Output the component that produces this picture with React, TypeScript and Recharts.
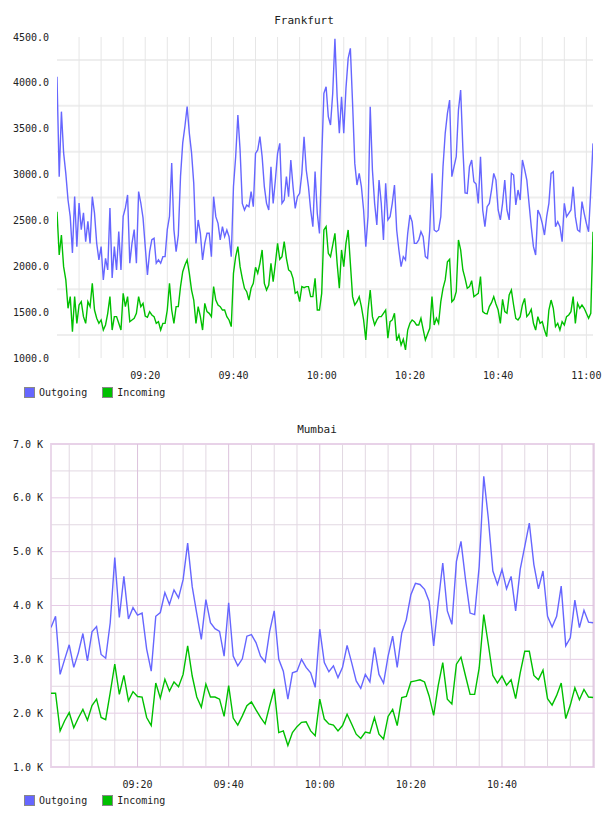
import React from 'react';
import { LineChart, Line, XAxis, YAxis, ReferenceLine, ReferenceArea } from 'recharts';

// Frankfurt: 30 s samples starting 09:00 (values in bytes/s)
const frankStepMin = 0.5;
const frankOutgoing = [
  4067, 2977, 3686, 3236, 3010, 2723, 2541, 2146, 2760, 2214, 2690, 2400, 2582, 2269, 2490, 2250,
  2759, 2580, 2250, 2070, 2215, 1851, 2087, 1960, 2636, 1873, 2215, 1960, 2378, 1960, 2545, 2636,
  2778, 2033, 2251, 2400, 2033, 2814, 2690, 2527, 2215, 1906, 2160, 2290, 2305, 2033, 2070, 2033,
  2105, 2105, 2400, 2545, 3127, 2400, 2160, 2340, 2980, 3345, 3527, 3741, 3450, 3236, 2904, 2250,
  2505, 2360, 2069, 2250, 2360, 2360, 2105, 2759, 2541, 2468, 2287, 2432, 2323, 2396, 2323, 2105,
  2868, 3195, 3649, 3268, 2686, 2614, 2668, 2650, 2814, 2650, 3231, 3268, 3413, 3195, 2868, 2686,
  2614, 3086, 2686, 2941, 3231, 3340, 2686, 2723, 2977, 2759, 3159, 2868, 2632, 2759, 2795, 3013,
  3413, 3050, 2868, 2614, 2432, 3032, 2577, 2359, 3177, 3886, 3958, 3631, 3540, 3886, 4480, 3849,
  3450, 3849, 3450, 3940, 4267, 4376, 3777, 3122, 2886, 3013, 2868, 2614, 2214, 2541, 3740, 3050,
  2686, 2450, 2941, 2686, 2287, 2904, 2505, 2541, 2686, 2886, 2396, 2178, 1996, 2105, 2069, 2359,
  2559, 2486, 2250, 2250, 2287, 2377, 2323, 2105, 2087, 2396, 3013, 2396, 2377, 2396, 2541, 3086,
  3450, 3667, 3813, 2977, 3086, 3195, 3704, 3922, 3286, 2800, 2795, 3086, 3159, 2922, 2897, 2686,
  3195, 2614, 2432, 2650, 2686, 2832, 3013, 2940, 2614, 2505, 2686, 2941, 2614, 2505, 3013, 2995,
  2668, 2832, 2723, 3159, 3057, 2941, 2686, 2432, 2214, 2123, 2614, 2559, 2468, 2341, 2541, 2686,
  3013, 3032, 2432, 2486, 2432, 2268, 2686, 2541, 2577, 2614, 2868, 2541, 2396, 2377, 2705, 2577,
  2468, 2377, 2832, 3340,
];
const frankIncoming = [
  2595, 2123, 2341, 1996, 1851, 1542, 1669, 1287, 1669, 1378, 1578, 1614, 1451, 1378, 1614, 1560,
  1814, 1523, 1433, 1378, 1415, 1305, 1360, 1487, 1669, 1305, 1451, 1451, 1378, 1305, 1705, 1560,
  1669, 1396, 1415, 1433, 1487, 1669, 1560, 1596, 1458, 1444, 1505, 1469, 1451, 1378, 1396, 1305,
  1378, 1378, 1523, 1814, 1523, 1378, 1560, 1560, 1778, 1941, 2014, 2069, 1923, 1741, 1632, 1378,
  1560, 1451, 1305, 1596, 1505, 1487, 1451, 1778, 1632, 1578, 1560, 1523, 1523, 1451, 1415, 1342,
  1923, 2105, 2214, 1996, 1869, 1760, 1723, 1632, 1760, 1814, 1989, 1923, 2032, 2178, 1814, 1741,
  1796, 2032, 1832, 2032, 2250, 2076, 2105, 2268, 2087, 1960, 1941, 1869, 1705, 1723, 1614, 1778,
  1767, 1778, 1778, 1669, 1669, 1869, 1523, 1523, 1705, 2396, 2432, 2141, 2105, 2232, 2359, 2032,
  1760, 2178, 1996, 2250, 2396, 2032, 1669, 1578, 1614, 1669, 1560, 1415, 1196, 1523, 1741, 1451,
  1360, 1415, 1451, 1451, 1487, 1523, 1215, 1396, 1415, 1487, 1189, 1251, 1142, 1204, 1088, 1305,
  1378, 1415, 1396, 1360, 1360, 1433, 1313, 1196, 1262, 1324, 1669, 1360, 1433, 1378, 1614, 1760,
  1851, 2050, 2076, 1614, 1640, 1723, 2287, 2178, 1960, 1869, 1760, 1778, 1843, 1669, 1687, 1705,
  1887, 1505, 1487, 1480, 1560, 1603, 1669, 1589, 1523, 1378, 1640, 1505, 1487, 1687, 1741, 1578,
  1433, 1415, 1451, 1578, 1650, 1451, 1480, 1530, 1378, 1305, 1451, 1378, 1396, 1305, 1233, 1523,
  1632, 1542, 1342, 1378, 1305, 1396, 1360, 1451, 1469, 1505, 1669, 1378, 1596, 1542, 1578, 1542,
  1487, 1433, 1487, 2377,
];
const frankYTicks = [1000, 1500, 2000, 2500, 3000, 3500, 4000, 4500];
const frankHGrid = [1250, 1750, 2250, 2750, 3250, 3750, 4250];
const frankTimeTicks = [20, 40, 60, 80, 100, 120];

// Mumbai: 1 min samples, minute 1..120 after 09:00 (values in K)
const mumbaiStartMin = 1;
const mumbaiOutgoing = [
  3.59, 3.80, 2.72, 3.00, 3.27, 2.85, 3.12, 3.48, 2.97, 3.51, 3.61, 3.09, 3.02, 3.68, 4.89, 3.78,
  4.54, 3.75, 3.96, 3.82, 3.86, 3.19, 2.78, 3.80, 3.87, 4.24, 4.02, 4.29, 4.14, 4.48, 5.16, 4.35,
  3.85, 3.37, 4.11, 3.68, 3.57, 3.52, 3.06, 4.05, 3.06, 2.88, 3.01, 3.43, 3.46, 3.31, 3.06, 2.95,
  3.52, 3.90, 3.00, 2.78, 2.26, 2.75, 2.78, 3.00, 2.85, 2.75, 2.48, 3.56, 2.94, 2.77, 2.88, 2.66,
  2.85, 3.26, 2.94, 2.60, 2.46, 2.72, 2.58, 3.22, 2.72, 2.56, 3.06, 3.43, 2.85, 3.49, 3.74, 4.20,
  4.41, 4.39, 4.30, 4.08, 3.25, 4.05, 4.79, 3.90, 3.65, 4.82, 5.19, 4.48, 3.86, 3.83, 4.73, 6.40,
  5.62, 4.64, 4.39, 4.67, 4.31, 4.54, 3.90, 4.67, 5.10, 5.53, 4.76, 4.31, 4.64, 3.80, 3.60, 3.80,
  4.36, 3.25, 3.40, 4.10, 3.59, 3.91, 3.69, 3.68,
];
const mumbaiIncoming = [
  2.37, 2.37, 1.67, 1.86, 2.01, 1.73, 1.91, 2.07, 1.87, 2.14, 2.26, 1.92, 1.88, 2.38, 2.91, 2.35,
  2.70, 2.23, 2.40, 2.31, 2.30, 1.92, 1.77, 2.56, 2.28, 2.63, 2.41, 2.58, 2.49, 2.72, 3.25, 2.69,
  2.30, 2.11, 2.54, 2.30, 2.30, 2.26, 1.94, 2.51, 1.91, 1.78, 1.95, 2.14, 2.21, 2.06, 1.92, 1.80,
  2.14, 2.45, 1.64, 1.67, 1.40, 1.64, 1.75, 1.83, 1.84, 1.67, 1.58, 2.26, 1.89, 1.80, 1.78, 1.67,
  1.77, 1.98, 1.80, 1.61, 1.53, 1.65, 1.63, 1.92, 1.61, 1.52, 1.94, 2.07, 1.77, 2.29, 2.31, 2.58,
  2.60, 2.62, 2.58, 2.32, 1.96, 2.51, 2.94, 2.26, 2.17, 2.91, 3.04, 2.69, 2.35, 2.35, 2.84, 3.83,
  3.28, 2.70, 2.56, 2.69, 2.52, 2.62, 2.27, 2.75, 3.15, 3.15, 2.70, 2.62, 2.80, 2.27, 2.15, 2.33,
  2.56, 1.90, 2.15, 2.47, 2.25, 2.44, 2.30, 2.29,
];
const mumbaiYTicks = [1, 2, 3, 4, 5, 6, 7];
const mumbaiHMinor = [1.5, 2.5, 3.5, 4.5, 5.5, 6.5];
const mumbaiTimeTicks = [20, 40, 60, 80, 100];

const fiveMinLines = [5, 10, 15, 20, 25, 30, 35, 40, 45, 50, 55, 60, 65, 70, 75, 80, 85, 90, 95, 100, 105, 110, 115, 120];

const OUT_COLOR = '#6666ff';
const IN_COLOR = '#00c000';
const FONT = '"DejaVu Sans Mono", monospace';

const frankData = frankOutgoing.map((v, i) => ({ t: i * frankStepMin, out: v, inc: frankIncoming[i] }));
const mumbaiData = mumbaiOutgoing.map((v, i) => ({ t: mumbaiStartMin + i, out: v, inc: mumbaiIncoming[i] }));

const fmtTime = (m: number) => {
  const total = 9 * 60 + m;
  const h = Math.floor(total / 60);
  const mm = total % 60;
  return `${String(h).padStart(2, '0')}:${String(mm).padStart(2, '0')}`;
};

const XTick = (props: any) => {
  const { x, y, payload } = props;
  return (
    <text x={x} y={y + 15} textAnchor="middle" dominantBaseline="central" fontFamily={FONT} fontSize={10} fill="#222">
      {fmtTime(payload.value)}
    </text>
  );
};

const makeYTick = (fmt: (v: number) => string) => (props: any) => {
  const { x, y, payload } = props;
  return (
    <text x={x} y={y} textAnchor="end" dominantBaseline="central" fontFamily={FONT} fontSize={10} fill="#222">
      {fmt(payload.value)}
    </text>
  );
};

const Title = ({ text, top, left }: { text: string; top: number; left: number }) => (
  <div style={{ position: 'absolute', top, left, transform: 'translate(-50%, -50%)', fontFamily: FONT, fontSize: 11, color: '#222', whiteSpace: 'nowrap' }}>
    {text}
  </div>
);

const LegendRow = ({ top }: { top: number }) => (
  <div style={{ position: 'absolute', top, left: 24, display: 'flex', alignItems: 'center', fontFamily: FONT, fontSize: 10, color: '#222' }}>
    <span style={{ width: 9, height: 9, background: OUT_COLOR, border: '1px solid #888', display: 'inline-block' }} />
    <span style={{ marginLeft: 4 }}>Outgoing</span>
    <span style={{ width: 9, height: 9, background: IN_COLOR, border: '1px solid #888', display: 'inline-block', marginLeft: 15 }} />
    <span style={{ marginLeft: 4 }}>Incoming</span>
  </div>
);

export default function App() {
  return (
    <div style={{ position: 'absolute', left: 0, top: 0, width: 608, height: 816, background: '#fff' }}>
      <Title text="Frankfurt" top={20} left={304} />
      <div style={{ position: 'absolute', left: 0, top: 0 }}>
        <LineChart width={608} height={400} data={frankData} margin={{ top: 37, right: 15, left: 0, bottom: 0 }}>
          {frankHGrid.map((v) => (
            <ReferenceLine key={`h${v}`} y={v} stroke="#eeeeee" strokeWidth={2} />
          ))}
          {fiveMinLines.map((v) => (
            <ReferenceLine key={`v${v}`} x={v} stroke="#e6e6e6" strokeWidth={1} />
          ))}
          <XAxis
            type="number"
            dataKey="t"
            domain={[0, 121.5]}
            ticks={frankTimeTicks}
            tick={<XTick />}
            axisLine={false}
            tickLine={false}
            tickSize={0}
            height={42}
            allowDataOverflow
          />
          <YAxis
            type="number"
            domain={[1000, 4500]}
            ticks={frankYTicks}
            tick={makeYTick((v) => v.toFixed(1))}
            axisLine={false}
            tickLine={false}
            width={57}
            allowDataOverflow
          />
          <Line type="linear" dataKey="out" stroke={OUT_COLOR} strokeWidth={1.4} dot={false} isAnimationActive={false} />
          <Line type="linear" dataKey="inc" stroke={IN_COLOR} strokeWidth={1.4} dot={false} isAnimationActive={false} />
        </LineChart>
      </div>
      <LegendRow top={387} />

      <Title text="Mumbai" top={429} left={317} />
      <div style={{ position: 'absolute', left: 0, top: 404 }}>
        <LineChart width={608} height={404} data={mumbaiData} margin={{ top: 40, right: 14, left: 0, bottom: 0 }}>
          {mumbaiHMinor.map((v) => (
            <ReferenceLine key={`hm${v}`} y={v} stroke="#e2d8e2" strokeWidth={1} />
          ))}
          {mumbaiYTicks.map((v) => (
            <ReferenceLine key={`hM${v}`} y={v} stroke="#e6cce6" strokeWidth={1} />
          ))}
          {fiveMinLines.map((v) => (
            <ReferenceLine key={`v${v}`} x={v} stroke={v % 20 === 0 ? '#dcc2dc' : '#e2d8e2'} strokeWidth={1} />
          ))}
          <ReferenceArea x1={1} x2={120.2} y1={1} y2={7} fill="none" stroke="#ead8ea" strokeWidth={2} />
          <XAxis
            type="number"
            dataKey="t"
            domain={[1, 120.2]}
            ticks={mumbaiTimeTicks}
            tick={<XTick />}
            axisLine={false}
            tickLine={false}
            tickSize={0}
            height={41}
            allowDataOverflow
          />
          <YAxis
            type="number"
            domain={[1, 7]}
            ticks={mumbaiYTicks}
            tick={makeYTick((v) => `${v.toFixed(1)} K`)}
            axisLine={false}
            tickLine={false}
            width={51}
            allowDataOverflow
          />
          <Line type="linear" dataKey="out" stroke={OUT_COLOR} strokeWidth={1.4} dot={false} isAnimationActive={false} />
          <Line type="linear" dataKey="inc" stroke={IN_COLOR} strokeWidth={1.4} dot={false} isAnimationActive={false} />
        </LineChart>
      </div>
      <LegendRow top={795} />
    </div>
  );
}
